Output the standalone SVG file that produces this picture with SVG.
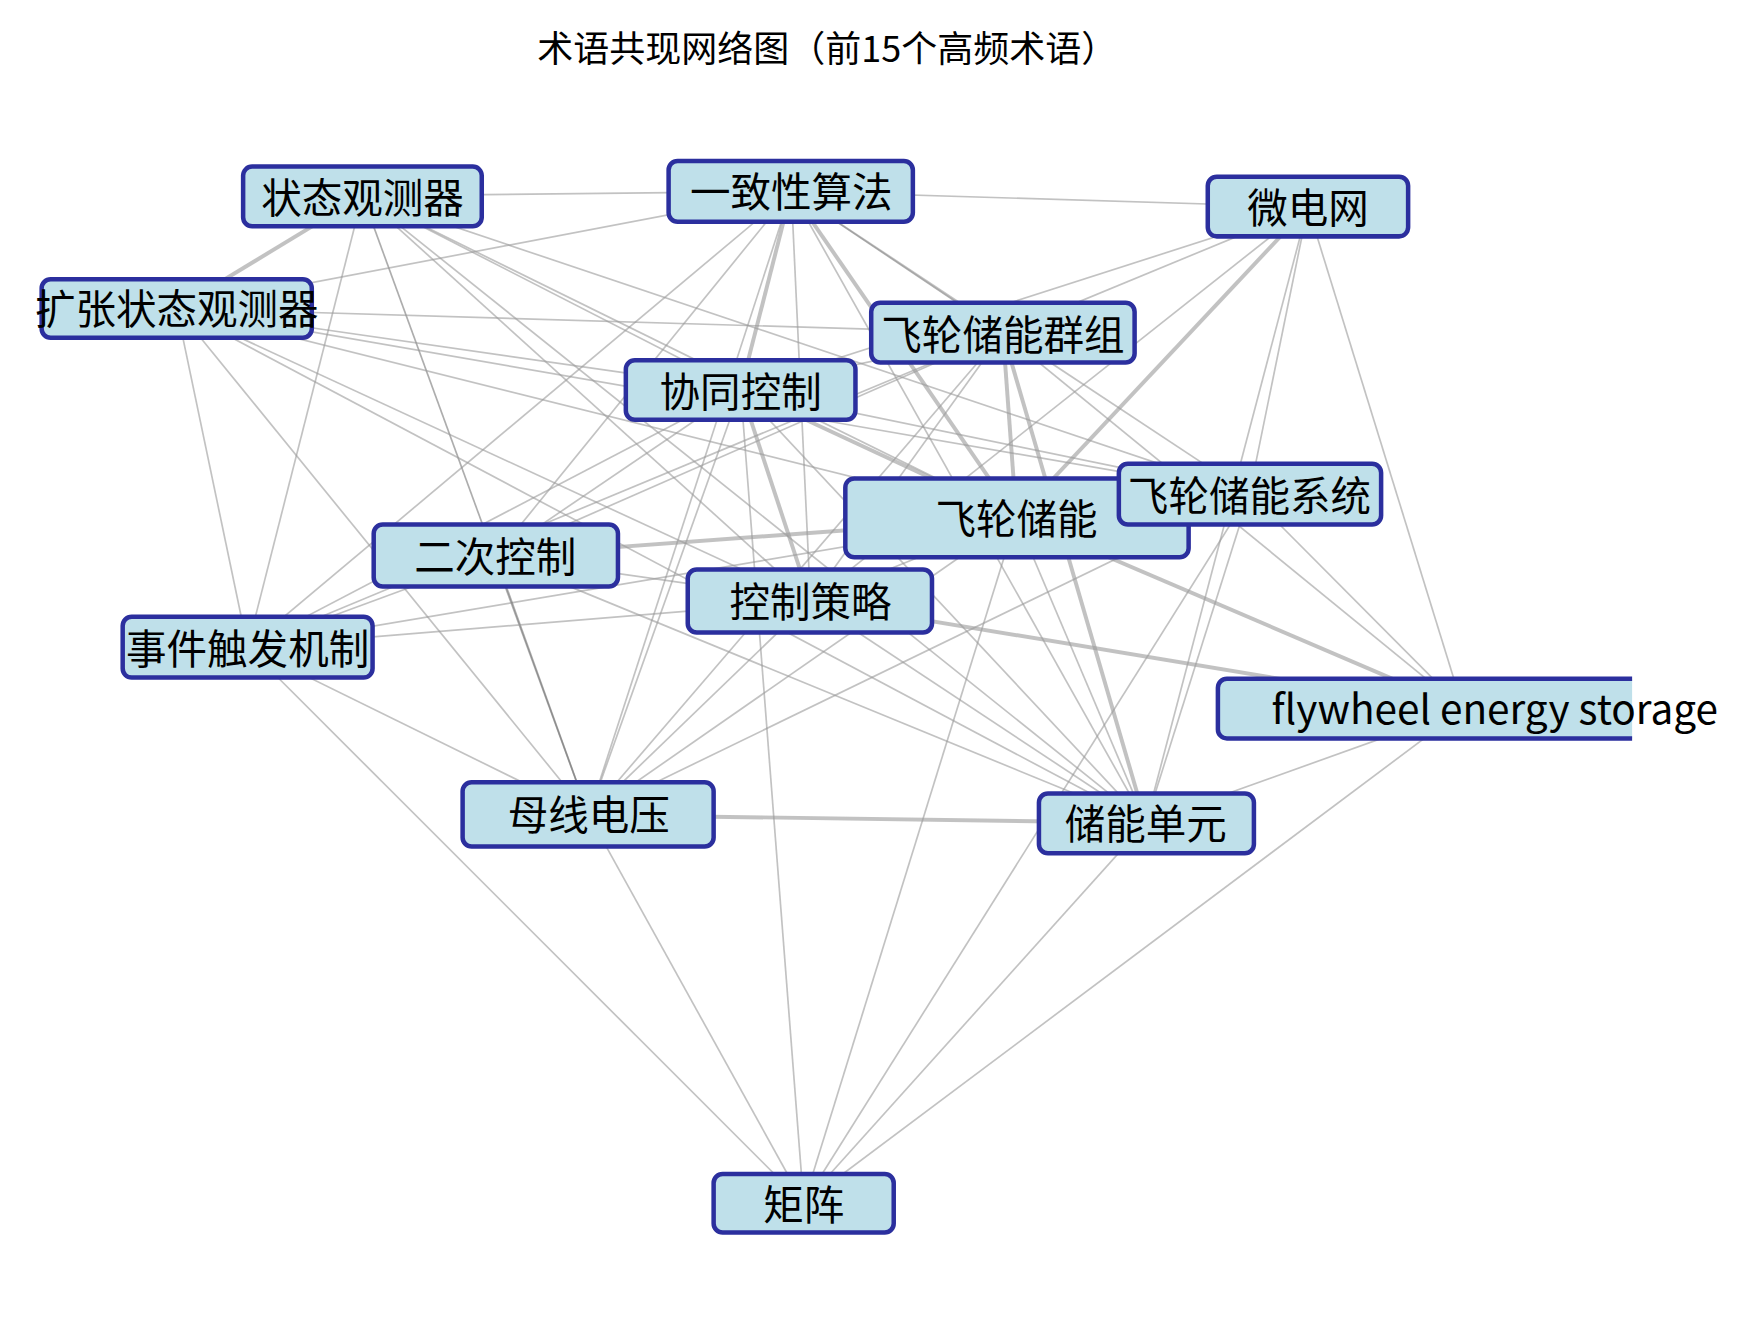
<svg xmlns="http://www.w3.org/2000/svg" width="1747" height="1327" viewBox="0 0 1747 1327">
<style>
.e{stroke:#999;stroke-opacity:.6;stroke-width:1.5;fill:none}
.t{stroke-width:3.5}
.d{stroke:#777}
.n rect,.n path{fill:#bfe0ea;stroke:#2b2f9e;stroke-width:4}
.n text{font-family:"Noto Sans CJK SC","Noto Sans",sans-serif;font-size:36px;text-anchor:middle;dominant-baseline:central;fill:#000}
.title{font-family:"Noto Sans CJK SC","Noto Sans",sans-serif;font-size:32px;text-anchor:middle;fill:#000}
</style>
<rect width="1747" height="1327" fill="#fff"/>
<g transform="scale(1.1256)">
<text class="title" x="735" y="55">术语共现网络图（前15个高频术语）</text>
<g id="connectors">
<line class="e" x1="322" y1="174" x2="703" y2="170"/>
<line class="e t" x1="322" y1="174" x2="157" y2="274"/>
<line class="e" x1="322" y1="174" x2="658" y2="346"/>
<line class="e" x1="322" y1="174" x2="720" y2="534"/>
<line class="e d" x1="322" y1="174" x2="523" y2="724"/>
<line class="e" x1="322" y1="174" x2="220" y2="575"/>
<line class="e" x1="322" y1="174" x2="903" y2="460"/>
<line class="e" x1="322" y1="174" x2="1110" y2="439"/>
<line class="e" x1="322" y1="174" x2="1018" y2="731"/>
<line class="e" x1="703" y1="170" x2="157" y2="274"/>
<line class="e" x1="703" y1="170" x2="1162" y2="184"/>
<line class="e d" x1="703" y1="170" x2="891" y2="296"/>
<line class="e t" x1="703" y1="170" x2="658" y2="346"/>
<line class="e" x1="703" y1="170" x2="440" y2="494"/>
<line class="e" x1="703" y1="170" x2="720" y2="534"/>
<line class="e t" x1="703" y1="170" x2="903" y2="460"/>
<line class="e" x1="703" y1="170" x2="523" y2="724"/>
<line class="e" x1="703" y1="170" x2="220" y2="575"/>
<line class="e" x1="703" y1="170" x2="1018" y2="731"/>
<line class="e" x1="703" y1="170" x2="1110" y2="439"/>
<line class="e" x1="1162" y1="184" x2="891" y2="296"/>
<line class="e t" x1="1162" y1="184" x2="903" y2="460"/>
<line class="e" x1="1162" y1="184" x2="658" y2="346"/>
<line class="e" x1="1162" y1="184" x2="1018" y2="731"/>
<line class="e" x1="1162" y1="184" x2="1110" y2="439"/>
<line class="e" x1="1162" y1="184" x2="1300" y2="630"/>
<line class="e" x1="1162" y1="184" x2="720" y2="534"/>
<line class="e" x1="157" y1="274" x2="891" y2="296"/>
<line class="e" x1="157" y1="274" x2="658" y2="346"/>
<line class="e" x1="157" y1="274" x2="903" y2="460"/>
<line class="e" x1="157" y1="274" x2="1110" y2="439"/>
<line class="e" x1="157" y1="274" x2="720" y2="534"/>
<line class="e" x1="157" y1="274" x2="220" y2="575"/>
<line class="e" x1="157" y1="274" x2="523" y2="724"/>
<line class="e" x1="157" y1="274" x2="1018" y2="731"/>
<line class="e" x1="891" y1="296" x2="658" y2="346"/>
<line class="e t" x1="891" y1="296" x2="903" y2="460"/>
<line class="e t" x1="891" y1="296" x2="1018" y2="731"/>
<line class="e" x1="891" y1="296" x2="440" y2="494"/>
<line class="e" x1="891" y1="296" x2="720" y2="534"/>
<line class="e" x1="891" y1="296" x2="523" y2="724"/>
<line class="e" x1="891" y1="296" x2="1300" y2="630"/>
<line class="e" x1="891" y1="296" x2="220" y2="575"/>
<line class="e t" x1="658" y1="346" x2="903" y2="460"/>
<line class="e t" x1="658" y1="346" x2="720" y2="534"/>
<line class="e" x1="658" y1="346" x2="440" y2="494"/>
<line class="e" x1="658" y1="346" x2="523" y2="724"/>
<line class="e" x1="658" y1="346" x2="220" y2="575"/>
<line class="e" x1="658" y1="346" x2="1018" y2="731"/>
<line class="e" x1="658" y1="346" x2="1110" y2="439"/>
<line class="e" x1="658" y1="346" x2="714" y2="1069"/>
<line class="e t" x1="903" y1="460" x2="440" y2="494"/>
<line class="e" x1="903" y1="460" x2="720" y2="534"/>
<line class="e" x1="903" y1="460" x2="220" y2="575"/>
<line class="e" x1="903" y1="460" x2="523" y2="724"/>
<line class="e" x1="903" y1="460" x2="1018" y2="731"/>
<line class="e t" x1="903" y1="460" x2="1300" y2="630"/>
<line class="e" x1="903" y1="460" x2="714" y2="1069"/>
<line class="e" x1="1110" y1="439" x2="1018" y2="731"/>
<line class="e" x1="1110" y1="439" x2="1300" y2="630"/>
<line class="e" x1="1110" y1="439" x2="523" y2="724"/>
<line class="e" x1="1110" y1="439" x2="714" y2="1069"/>
<line class="e" x1="440" y1="494" x2="720" y2="534"/>
<line class="e d" x1="440" y1="494" x2="523" y2="724"/>
<line class="e" x1="440" y1="494" x2="220" y2="575"/>
<line class="e" x1="440" y1="494" x2="1018" y2="731"/>
<line class="e" x1="720" y1="534" x2="220" y2="575"/>
<line class="e" x1="720" y1="534" x2="523" y2="724"/>
<line class="e" x1="720" y1="534" x2="1018" y2="731"/>
<line class="e t" x1="720" y1="534" x2="1300" y2="630"/>
<line class="e" x1="220" y1="575" x2="523" y2="724"/>
<line class="e" x1="220" y1="575" x2="714" y2="1069"/>
<line class="e t" x1="523" y1="724" x2="1018" y2="731"/>
<line class="e" x1="523" y1="724" x2="714" y2="1069"/>
<line class="e" x1="1018" y1="731" x2="714" y2="1069"/>
<line class="e" x1="1018" y1="731" x2="1300" y2="630"/>
<line class="e" x1="1300" y1="630" x2="714" y2="1069"/>
</g>
<g id="n-zhuangtai" class="n"><rect x="216" y="148" width="212" height="53" rx="8"/><text x="322" y="174">状态观测器</text></g>
<g id="n-yizhi" class="n"><rect x="594" y="143" width="217" height="54" rx="8"/><text x="703" y="168">一致性算法</text></g>
<g id="n-weidian" class="n"><rect x="1073" y="157" width="178" height="53" rx="8"/><text x="1162" y="183">微电网</text></g>
<g id="n-kuozhang" class="n"><rect x="37" y="248" width="240" height="52" rx="8"/><text x="157" y="272">扩张状态观测器</text></g>
<g id="n-qunzu" class="n"><rect x="774" y="269" width="234" height="53" rx="8"/><text x="891" y="295">飞轮储能群组</text></g>
<g id="n-xietong" class="n"><rect x="556" y="320" width="204" height="53" rx="8"/><text x="658" y="346">协同控制</text></g>
<g id="n-feilun" class="n"><rect x="751" y="425" width="305" height="70" rx="8"/><text x="903" y="459">飞轮储能</text></g>
<g id="n-xitong" class="n"><rect x="994" y="412" width="233" height="54" rx="8"/><text x="1110" y="438">飞轮储能系统</text></g>
<g id="n-erci" class="n"><rect x="332" y="466" width="217" height="55" rx="8"/><text x="440" y="493">二次控制</text></g>
<g id="n-celue" class="n"><rect x="611" y="506" width="217" height="56" rx="8"/><text x="720" y="533">控制策略</text></g>
<g id="n-shijian" class="n"><rect x="109" y="548" width="222" height="54" rx="8"/><text x="220" y="574">事件触发机制</text></g>
<g id="n-flywheel" class="n"><path d="M1450 603H1090a8 8 0 0 0-8 8v37a8 8 0 0 0 8 8H1450"/><text x="1328" y="628">flywheel energy storage</text></g>
<g id="n-muxian" class="n"><rect x="411" y="695" width="223" height="57" rx="8"/><text x="523" y="722">母线电压</text></g>
<g id="n-chuneng" class="n"><rect x="923" y="705" width="191" height="53" rx="8"/><text x="1018" y="730">储能单元</text></g>
<g id="n-juzhen" class="n"><rect x="634" y="1043" width="160" height="52" rx="8"/><text x="714" y="1068">矩阵</text></g>
</g>
</svg>
